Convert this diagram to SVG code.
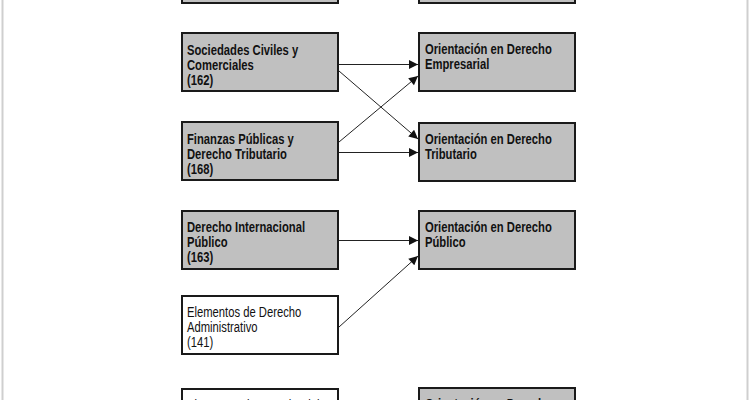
<svg xmlns="http://www.w3.org/2000/svg" width="750" height="400" viewBox="0 0 750 400">
  <style>
    .box { stroke: #1a1a1a; stroke-width: 2; }
    .dark { fill: #c0c0c0; }
    .light { fill: #ffffff; }
    .t { font-family: "Liberation Sans", Arial, sans-serif; font-size: 15px; fill: #111; }
    .b { font-weight: bold; }
    .edge { stroke: #222; stroke-width: 1; fill: none; marker-end: url(#arr); }
    .frame { stroke: #cfcfcf; stroke-width: 2; }
  </style>
  <defs>
    <marker id="arr" viewBox="0 0 10 10" refX="10" refY="5" markerWidth="11" markerHeight="9" markerUnits="userSpaceOnUse" orient="auto">
      <path d="M0,0 L10,5 L0,10 Z" fill="#111"/>
    </marker>
  </defs>
  <rect x="0" y="0" width="750" height="400" fill="#ffffff"/>
  <line class="frame" x1="2.5" y1="0" x2="2.5" y2="400"/>
  <line class="frame" x1="747.5" y1="0" x2="747.5" y2="400"/>

  <g id="left-top">
    <rect class="box dark" x="182" y="-55" width="156" height="58"/>
  </g>
  <g id="right-top">
    <rect class="box dark" x="419" y="-55" width="156" height="58"/>
  </g>

  <g id="sociedades">
    <rect class="box dark" x="182" y="33" width="156" height="58"/>
    <g transform="translate(187,0) scale(0.75,1)">
      <text class="t b" x="0" y="55">Sociedades Civiles y</text>
      <text class="t b" x="0" y="70">Comerciales</text>
      <text class="t b" x="0" y="85">(162)</text>
    </g>
  </g>
  <g id="finanzas">
    <rect class="box dark" x="182" y="122" width="156" height="58"/>
    <g transform="translate(187,0) scale(0.75,1)">
      <text class="t b" x="0" y="144">Finanzas Públicas y</text>
      <text class="t b" x="0" y="159">Derecho Tributario</text>
      <text class="t b" x="0" y="174">(168)</text>
    </g>
  </g>
  <g id="internacional">
    <rect class="box dark" x="182" y="211" width="156" height="58"/>
    <g transform="translate(187,0) scale(0.75,1)">
      <text class="t b" x="0" y="232">Derecho Internacional</text>
      <text class="t b" x="0" y="247">Público</text>
      <text class="t b" x="0" y="262">(163)</text>
    </g>
  </g>
  <g id="administrativo">
    <rect class="box light" x="182" y="296" width="156" height="58"/>
    <g transform="translate(187,0) scale(0.75,1)">
      <text class="t" x="0" y="317">Elementos de Derecho</text>
      <text class="t" x="0" y="332">Administrativo</text>
      <text class="t" x="0" y="347">(141)</text>
    </g>
  </g>
  <g id="left-bottom">
    <rect class="box light" x="182" y="389" width="156" height="58"/>
    <g transform="translate(187,0) scale(0.75,1)">
      <text class="t" x="0" y="410">Elementos de Derecho del</text>
    </g>
  </g>

  <g id="empresarial">
    <rect class="box dark" x="419" y="33" width="156" height="58"/>
    <g transform="translate(425,0) scale(0.75,1)">
      <text class="t b" x="0" y="54">Orientación en Derecho</text>
      <text class="t b" x="0" y="69">Empresarial</text>
    </g>
  </g>
  <g id="tributario">
    <rect class="box dark" x="419" y="123" width="156" height="58"/>
    <g transform="translate(425,0) scale(0.75,1)">
      <text class="t b" x="0" y="144">Orientación en Derecho</text>
      <text class="t b" x="0" y="159">Tributario</text>
    </g>
  </g>
  <g id="publico">
    <rect class="box dark" x="419" y="211" width="156" height="58"/>
    <g transform="translate(425,0) scale(0.75,1)">
      <text class="t b" x="0" y="232">Orientación en Derecho</text>
      <text class="t b" x="0" y="247">Público</text>
    </g>
  </g>
  <g id="right-bottom">
    <rect class="box dark" x="419" y="388" width="156" height="58"/>
    <g transform="translate(425,0) scale(0.75,1)">
      <text class="t b" x="0" y="409">Orientación en Derecho</text>
    </g>
  </g>

  <g id="connectors">
    <line class="edge" x1="339" y1="64.5" x2="418" y2="64.5"/>
    <line class="edge" x1="339" y1="71" x2="418" y2="139"/>
    <line class="edge" x1="339" y1="142" x2="418" y2="76"/>
    <line class="edge" x1="339" y1="152.5" x2="418" y2="152.5"/>
    <line class="edge" x1="339" y1="240.5" x2="418" y2="240.5"/>
    <line class="edge" x1="339" y1="327" x2="418" y2="256"/>
  </g>
</svg>
